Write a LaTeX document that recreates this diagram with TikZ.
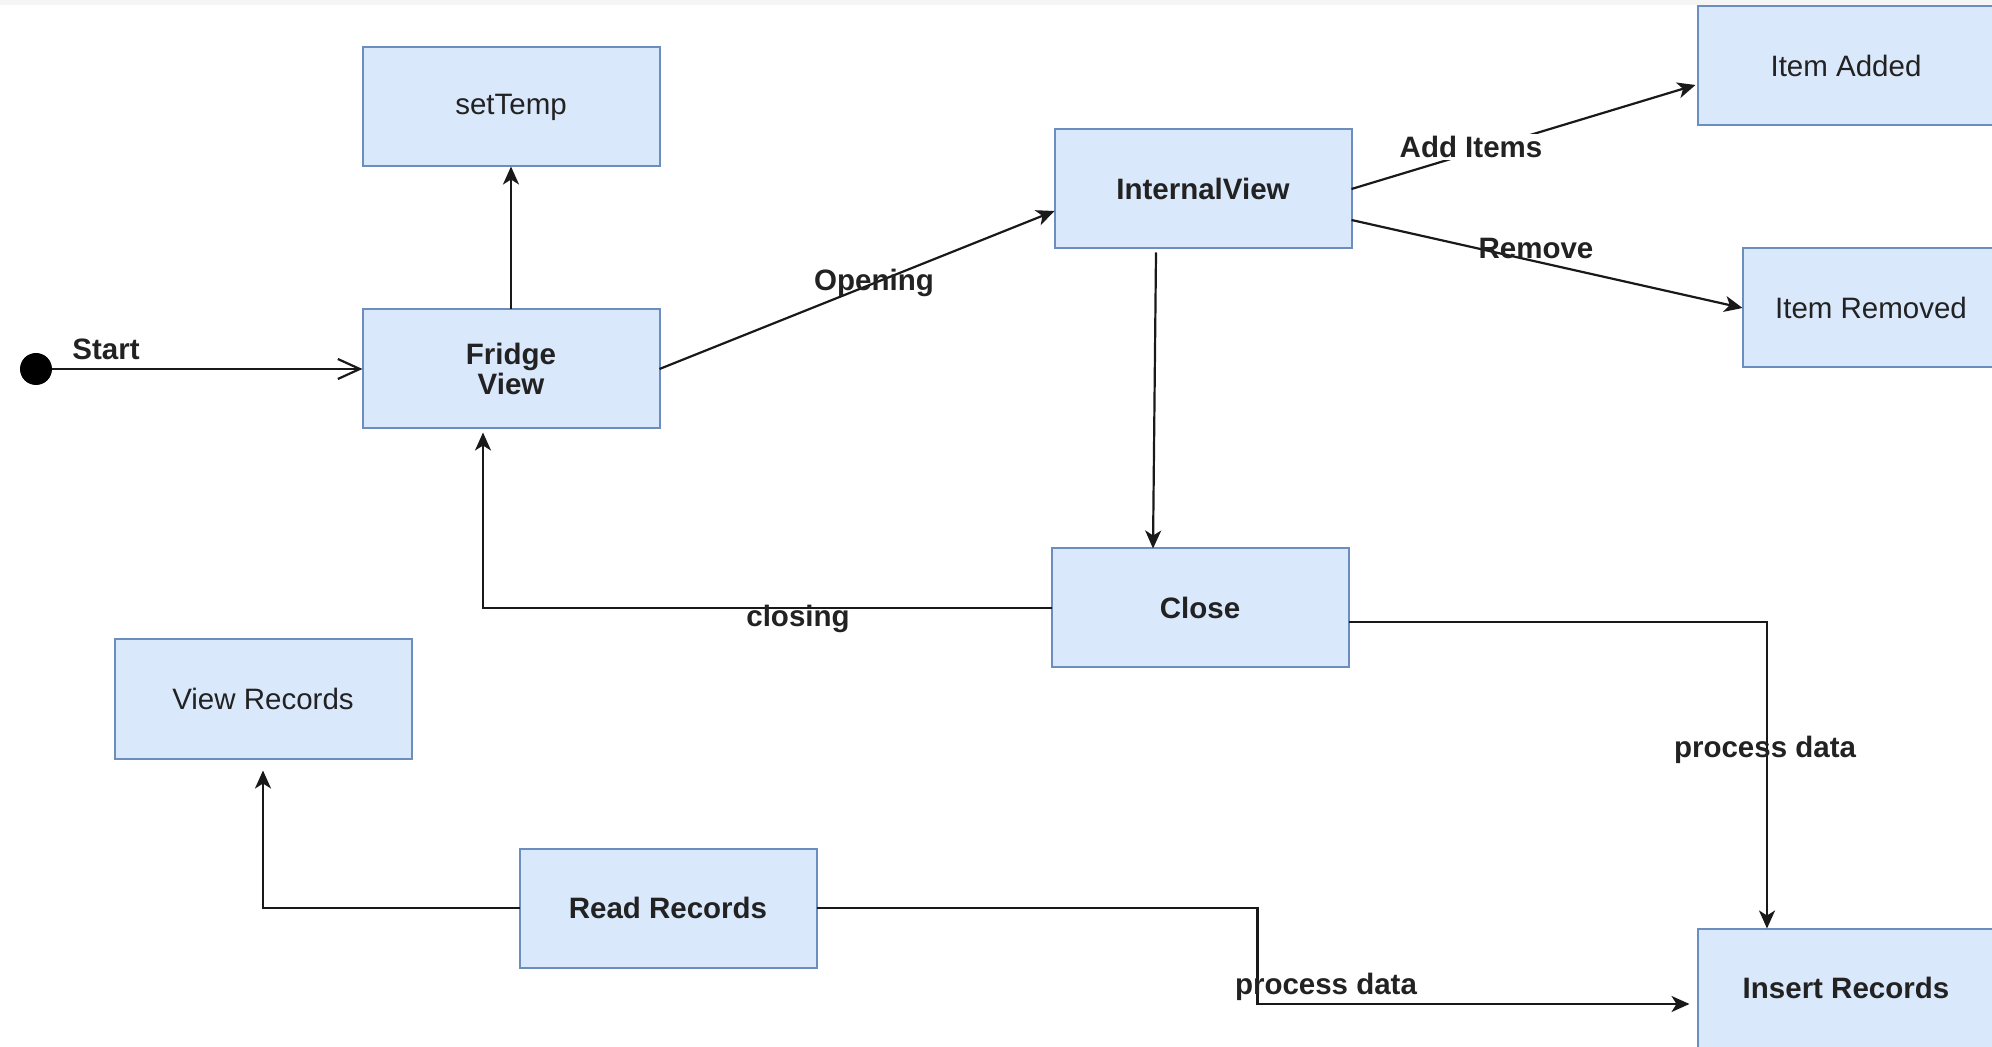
\documentclass[tikz,border=0pt]{standalone}
\usepackage{fontspec}
\setmainfont{Liberation Sans}
\usetikzlibrary{arrows.meta,calc}
\definecolor{boxfill}{HTML}{DAE8FC}
\definecolor{boxline}{HTML}{6C8EBF}
\definecolor{txt}{HTML}{222222}
\begin{document}
\begin{tikzpicture}[x=0.5pt,y=-0.5pt,
  state/.style={draw=boxline, fill=boxfill, line width=1pt, minimum width=148.5pt, minimum height=59.5pt, inner sep=0pt, outer sep=0pt, text=txt, font=\fontsize{14.75}{14.6}\selectfont, align=center},
  bstate/.style={state, font=\fontsize{14.75}{14.6}\selectfont\bfseries},
  conn/.style={draw=black!90, line width=1.1pt, -{Stealth[length=9pt,width=8pt,inset=2.5pt]}},
  lbl/.style={font=\fontsize{14.75}{14.6}\selectfont\bfseries, text=txt, inner sep=1pt}
]
\useasboundingbox (0,0) rectangle (1992,1047);
\clip (0,0) rectangle (1992,1047);
\fill[black!4] (0,0) rectangle (1992,5);

\node[state]  (st)  at (511,107)  {setTemp};
\node[bstate] (fv)  at (511,369)  {Fridge\\View};
\node[bstate] (iv)  at (1203,189) {InternalView};
\node[state]  (ia)  at (1846,66)  {Item Added};
\node[state]  (ir)  at (1891,308) {\hspace*{-20pt}Item Removed};
\node[bstate] (cl)  at (1200,608) {Close};
\node[state]  (vr)  at (263,699)  {View Records};
\node[bstate] (rr)  at (668,908)  {Read Records};
\node[bstate] (ins) at (1846,988) {Insert Records};

\node[circle, fill=black, minimum size=16pt, inner sep=0pt] (start) at (36,369) {};

\draw[draw=black!90, line width=1.1pt, -{Straight Barb[length=11pt,width=10pt]}] (start) -- (fv.west);
\node[lbl] (lstart) at (106,349) {Start};

\draw[conn] (fv.north) -- (st.south);

\draw[conn] (fv.east) -- ($(iv.west)+(0,22)$);
\node[lbl] (lopen) at (874,283) {Opening};

\draw[conn] (iv.east) -- ($(ia.west)+(-2,19)$);
\node[lbl, fill=white] (ladd) at (1471,147) {Add Items};

\draw[conn] ($(iv.east)+(0,31)$) -- (ir.west);
\node[lbl] (lrem) at (1536,249) {Remove};

\draw[conn] ($(iv.south)+(-47,4)$) -- ($(cl.north)+(-47,0)$);

\draw[conn] (cl.west) -| ($(fv.south)+(-28,4)$);
\node[lbl] (lclose) at (798,619) {closing};

\draw[conn] ($(cl.east)+(0,14)$) -| ($(ins.north)+(-79,0)$);
\node[lbl] (lproc1) at (1765,750) {process data};

\draw[conn] (rr.west) -| ($(vr.south)+(0,12)$);

\draw[conn] (rr.east) -- ++(441,0) |- ($(ins.west)+(-8,16)$);
\node[lbl] (lproc2) at (1326,987) {process data};
\end{tikzpicture}
\end{document}
